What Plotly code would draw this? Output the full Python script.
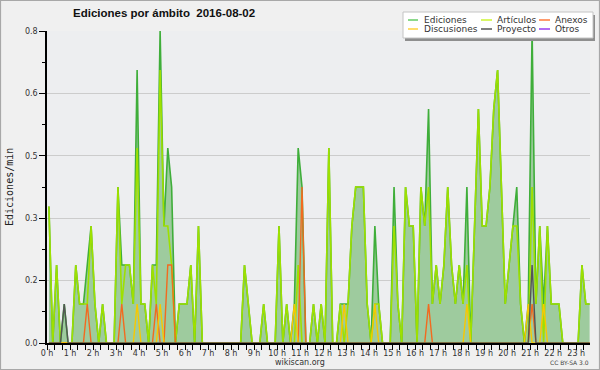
import plotly.graph_objects as go

# ---------------- data (10-minute windows, value = edits per minute) ----------------
N_BINS = 142
window_minutes = [5 + 10 * i for i in range(N_BINS)]          # window centres
window_hours = [m / 60 for m in window_minutes]

ediciones = [
    0.35, 0, 0.2, 0, 0.1, 0, 0, 0.2, 0.1, 0.1, 0.2, 0.3,
    0.1, 0, 0.1, 0, 0, 0, 0.4, 0.2, 0.2, 0.2, 0.1, 0.7,
    0.1, 0.1, 0, 0.2, 0.2, 0.8, 0.3, 0.5, 0.4, 0, 0.1, 0.1,
    0.1, 0.2, 0, 0.3, 0, 0, 0, 0, 0, 0, 0, 0,
    0, 0, 0, 0.2, 0.1, 0, 0, 0, 0.1, 0, 0, 0,
    0.3, 0, 0.1, 0, 0.1, 0.5, 0.4, 0, 0, 0.1, 0, 0.1,
    0, 0.5, 0, 0, 0.1, 0.1, 0.1, 0.3, 0.4, 0.4, 0.4, 0.1,
    0, 0.3, 0.1, 0, 0, 0, 0.4, 0.1, 0, 0.4, 0.3, 0.3,
    0, 0.4, 0.3, 0.6, 0.1, 0.2, 0.1, 0.2, 0.4, 0.2, 0.1, 0.2,
    0.1, 0.4, 0, 0.3, 0.6, 0.3, 0.3, 0.4, 0.6, 0.7, 0.4, 0.1,
    0.2, 0.3, 0.4, 0.1, 0, 0.1, 0.8, 0.1, 0.3, 0.1, 0.3, 0.1,
    0.1, 0.1, 0, 0, 0, 0, 0, 0.2, 0.1, 0.1,
]

articulos = [
    0.35, 0, 0.2, 0, 0, 0, 0, 0.2, 0.1, 0.1, 0.1, 0.3,
    0.1, 0, 0.1, 0, 0, 0, 0.4, 0.1, 0.2, 0.2, 0.1, 0.5,
    0.1, 0.1, 0, 0.2, 0.1, 0.7, 0.3, 0.3, 0.2, 0, 0.1, 0.1,
    0.1, 0.2, 0, 0.3, 0, 0, 0, 0, 0, 0, 0, 0,
    0, 0, 0, 0.2, 0.1, 0, 0, 0, 0.1, 0, 0, 0,
    0.3, 0, 0.1, 0, 0, 0.2, 0, 0, 0, 0.1, 0, 0.1,
    0, 0.5, 0, 0, 0.1, 0, 0.1, 0.3, 0.4, 0.4, 0.4, 0.1,
    0, 0.1, 0.1, 0, 0, 0, 0.3, 0.1, 0, 0.4, 0.3, 0.3,
    0, 0.4, 0.3, 0.4, 0.1, 0.2, 0.1, 0.2, 0.4, 0.2, 0.1, 0.2,
    0.1, 0.2, 0, 0.3, 0.6, 0.3, 0.3, 0.4, 0.6, 0.7, 0.4, 0.1,
    0.2, 0.3, 0.3, 0.1, 0, 0, 0.4, 0.1, 0.3, 0, 0.3, 0.1,
    0.1, 0.1, 0, 0, 0, 0, 0, 0.2, 0.1, 0.1,
]

# sparse series: window index -> value
anexos_bins = [10, 19, 28, 31, 32, 66, 99, 126]
anexos_vals = [0.1, 0.1, 0.1, 0.2, 0.2, 0.4, 0.1, 0.1]
discusiones_bins = [23, 29, 64, 77, 85, 109, 125, 129]
discusiones_vals = [0.1, 0.1, 0.1, 0.1, 0.1, 0.1, 0.1, 0.1]
proyecto_bins = [4, 126]
proyecto_vals = [0.1, 0.2]
otros_bins = []
otros_vals = []

y_tick_vals = [0, 0.16, 0.32, 0.48, 0.64, 0.8]
y_tick_text = ["0.0", "0.2", "0.3", "0.5", "0.6", "0.8"]
y_minor_vals = [0.08, 0.24, 0.40, 0.56, 0.72]
hour_ticks = list(range(24))
hour_labels = [f"{h} h" for h in hour_ticks]
minor_x = [k / 3 for k in range(71)]


def expand(bins, vals):
    out = [0.0] * N_BINS
    for b, v in zip(bins, vals):
        out[b] = v
    return out


anexos = expand(anexos_bins, anexos_vals)
discusiones = expand(discusiones_bins, discusiones_vals)
proyecto = expand(proyecto_bins, proyecto_vals)
otros = expand(otros_bins, otros_vals)

C_EDI = "#3fae3a"
C_ART = "#9ee000"
C_ANE = "#f26a1f"
C_DIS = "#f8c800"
C_PRO = "#555555"
C_OTR = "#9a3cf0"
C_FILL = "#9ecb9e"

fig = go.Figure()
fig.add_trace(go.Scatter(x=window_hours, y=otros, mode="lines",
                         line=dict(color=C_OTR, width=1.4), name="Otros"))
fig.add_trace(go.Scatter(x=window_hours, y=ediciones, mode="lines", fill="tozeroy",
                         fillcolor=C_FILL, line=dict(color=C_EDI, width=1.6),
                         name="Ediciones"))
fig.add_trace(go.Scatter(x=window_hours, y=articulos, mode="lines",
                         line=dict(color=C_ART, width=1.6), name="Artículos"))
fig.add_trace(go.Scatter(x=window_hours, y=anexos, mode="lines",
                         line=dict(color=C_ANE, width=1.4), name="Anexos"))
fig.add_trace(go.Scatter(x=window_hours, y=discusiones, mode="lines",
                         line=dict(color=C_DIS, width=1.4), name="Discusiones"))
fig.add_trace(go.Scatter(x=window_hours, y=proyecto, mode="lines",
                         line=dict(color=C_PRO, width=1.4), name="Proyecto"))

# pixel helpers (plot area: x 47..590, y 31..343)
L, R, T, B = 47, 590, 31, 343


def px(x):
    return (x - L) / (R - L)


def py(y):
    return (B - y) / (B - T)


shapes = []
annotations = []

# outer frame
shapes.append(dict(type="rect", xref="paper", yref="paper",
                   x0=px(0.5), x1=px(599.5), y0=py(369.5), y1=py(0.5),
                   line=dict(color="#a8a8a8", width=1.2), layer="above"))

# legend box with shadow
shapes.append(dict(type="rect", xref="paper", yref="paper",
                   x0=px(405), x1=px(595), y0=py(41), y1=py(15),
                   fillcolor="#8e8e8e", line=dict(width=0), layer="above"))
shapes.append(dict(type="rect", xref="paper", yref="paper",
                   x0=px(403), x1=px(593), y0=py(38), y1=py(12),
                   fillcolor="#ffffff", line=dict(color="#c4c4c4", width=1), layer="above"))

legend_items = [
    ("Ediciones", "#66cc66", 408, 418, 424, 20),
    ("Artículos", "#ccf533", 481, 492, 497, 20),
    ("Anexos", "#ff7a3d", 539, 550, 555, 20),
    ("Discusiones", "#ffd23c", 408, 418, 424, 29),
    ("Proyecto", "#555555", 481, 492, 497, 29),
    ("Otros", "#9a3cf0", 539, 550, 555, 29),
]
for label, col, lx0, lx1, tx, ly in legend_items:
    shapes.append(dict(type="line", xref="paper", yref="paper",
                       x0=px(lx0), x1=px(lx1), y0=py(ly), y1=py(ly),
                       line=dict(color=col, width=1.5), layer="above"))
    annotations.append(dict(text=label, xref="paper", yref="paper",
                            x=px(tx), y=py(ly), xanchor="left", yanchor="middle",
                            showarrow=False, borderpad=0, borderwidth=0,
                            font=dict(family="DejaVu Sans", size=9, color="#333333")))

# title
annotations.append(dict(text="<b>Ediciones por ámbito\u00a0\u00a02016-08-02</b>",
                        xref="paper", yref="paper", x=px(163.5), y=py(13),
                        xanchor="center", yanchor="middle", showarrow=False,
                        font=dict(family="Liberation Sans", size=11.5, color="#111111"),
                        borderpad=0, borderwidth=0))
# y title
annotations.append(dict(text="Ediciones/min", xref="paper", yref="paper",
                        x=px(9), y=py(187), xanchor="center", yanchor="middle",
                        textangle=-90, showarrow=False, borderpad=0, borderwidth=0,
                        font=dict(family="DejaVu Sans Mono", size=10, color="#222222")))
# footers
annotations.append(dict(text="wikiscan.org", xref="paper", yref="paper",
                        x=px(300), y=py(362), xanchor="center", yanchor="middle",
                        showarrow=False, borderpad=0, borderwidth=0,
                        font=dict(family="DejaVu Sans", size=8, color="#333333")))
annotations.append(dict(text="CC BY-SA 3.0", xref="paper", yref="paper",
                        x=px(569), y=py(362), xanchor="center", yanchor="middle",
                        showarrow=False, borderpad=0, borderwidth=0,
                        font=dict(family="DejaVu Sans", size=6, color="#444444")))

fig.update_layout(
    width=600, height=370,
    margin=dict(l=L, r=600 - R, t=T, b=370 - B),
    paper_bgcolor="#f0f0f0", plot_bgcolor="#edeef0",
    showlegend=False,
    font=dict(family="DejaVu Sans", size=8, color="#333333"),
    shapes=shapes, annotations=annotations,
)

fig.update_xaxes(range=[0, 23.6], tickmode="array", tickvals=hour_ticks, ticktext=hour_labels,
                 ticks="outside", ticklen=5, tickwidth=1, tickcolor="#000000",
                 showline=True, linecolor="#000000", linewidth=2, showgrid=False,
                 zeroline=False, tickfont=dict(family="DejaVu Sans", size=8, color="#333333"),
                 minor=dict(tickmode="array", tickvals=minor_x, ticks="outside", ticklen=5,
                            tickwidth=1, tickcolor="#000000", showgrid=False),
                 ticklabelstandoff=-4)
fig.update_yaxes(range=[0, 0.8], tickmode="array", tickvals=y_tick_vals, ticktext=y_tick_text,
                 ticks="outside", ticklen=6, tickwidth=1, tickcolor="#000000",
                 showline=True, linecolor="#000000", linewidth=1.5,
                 showgrid=True, gridcolor="#cccccc", gridwidth=1, zeroline=False,
                 tickfont=dict(family="DejaVu Sans", size=8, color="#333333"),
                 minor=dict(tickmode="array", tickvals=y_minor_vals, ticks="outside",
                            ticklen=3, tickwidth=1, tickcolor="#000000", showgrid=False))

fig.write_html("out.html", config={"displayModeBar": False},
               post_script="document.body.style.margin='0';document.body.style.overflow='hidden';")
